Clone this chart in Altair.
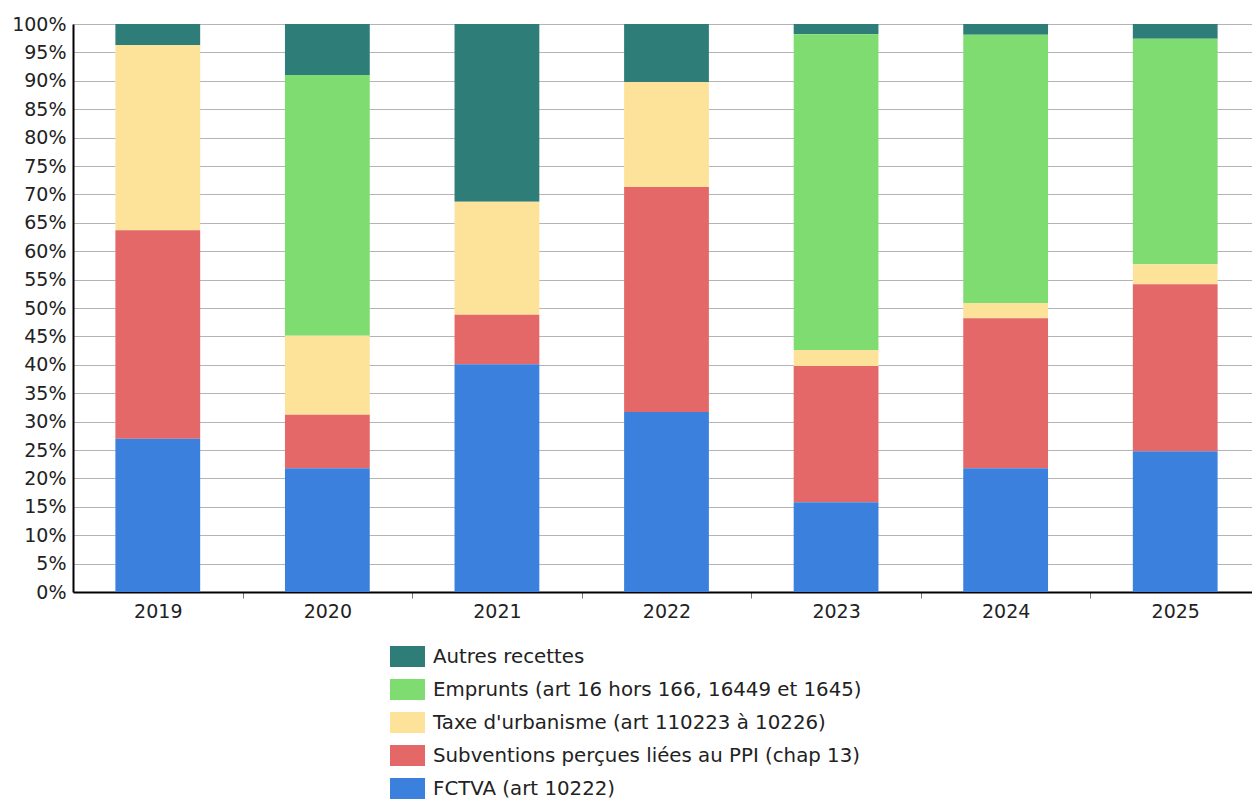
import altair as alt
import pandas as pd

years = ["2019", "2020", "2021", "2022", "2023", "2024", "2025"]
series = [
    "Autres recettes",
    "Emprunts (art 16 hors 166, 16449 et 1645)",
    "Taxe d'urbanisme (art 110223 à 10226)",
    "Subventions perçues liées au PPI (chap 13)",
    "FCTVA (art 10222)",
]
colors = ["#2f7d78", "#7fdc70", "#fde29a", "#e56868", "#3b80dc"]

fctva = [27.0, 21.8, 40.1, 31.7, 15.8, 21.8, 24.8]
subventions = [36.7, 9.4, 8.7, 39.6, 24.0, 26.4, 29.4]
taxe = [32.6, 13.9, 19.9, 18.5, 2.8, 2.7, 3.5]
emprunts = [0.0, 45.9, 0.0, 0.0, 55.6, 47.2, 39.7]
autres = [3.7, 9.0, 31.3, 10.2, 1.8, 1.9, 2.6]

values = [autres, emprunts, taxe, subventions, fctva]
rows = []
for s_i, (name, vals) in enumerate(zip(series, values)):
    for y, v in zip(years, vals):
        rows.append({"annee": y, "serie": name, "valeur": v, "rang": 4 - s_i})
df = pd.DataFrame(rows)

FONT = "DejaVu Sans"

chart = (
    alt.Chart(df)
    .mark_bar()
    .encode(
        x=alt.X(
            "annee:N",
            title=None,
            scale=alt.Scale(paddingInner=0.5, paddingOuter=0.25, range=[0, 1187]),
            axis=alt.Axis(
                labelAngle=0,
                labelFont=FONT,
                labelFontSize=19,
                labelColor="#222222",
                labelPadding=4,
                labelOffset=-84.8,
                domainColor="#000000",
                domainWidth=2,
                ticks=True,
                tickColor="#777777",
                tickWidth=1,
                tickSize=6,
                tickOffset=84.8,
                grid=False,
            ),
        ),
        y=alt.Y(
            "valeur:Q",
            stack="zero",
            title=None,
            scale=alt.Scale(domain=[0, 100], nice=False),
            axis=alt.Axis(
                values=list(range(0, 101, 5)),
                labelExpr="datum.value + '%'",
                labelFont=FONT,
                labelFontSize=19,
                labelColor="#222222",
                labelPadding=7,
                ticks=False,
                domainColor="#000000",
                domainWidth=2,
                grid=True,
                gridColor="#b4b4b4",
                gridWidth=1.2,
            ),
        ),
        color=alt.Color(
            "serie:N",
            scale=alt.Scale(domain=series, range=colors),
            legend=alt.Legend(
                title=None,
                orient="none",
                legendX=317,
                legendY=615,
                symbolType="M-1,-0.6H1V0.6H-1Z",
                symbolSize=1225,
                symbolStrokeWidth=0,
                symbolOpacity=1,
                labelFont=FONT,
                labelFontSize=19.8,
                labelColor="#222222",
                labelOffset=8,
                rowPadding=5,
                labelLimit=600,
            ),
        ),
        order=alt.Order("rang:Q", sort="ascending"),
    )
    .properties(
        width=1179,
        height=568,
        autosize=alt.AutoSizeParams(type="none"),
        padding={"left": 73, "top": 24, "right": 0, "bottom": 213},
        background="#ffffff",
    )
    .configure_view(stroke=None)
)

chart.save("out.html", embed_options={"renderer": "svg", "actions": False})
